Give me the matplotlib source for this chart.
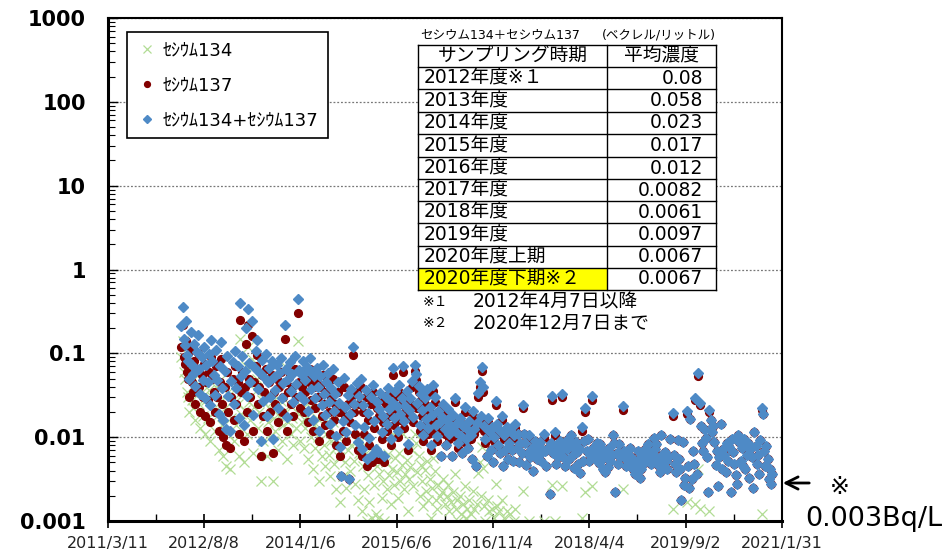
import numpy as np
import pandas as pd
import matplotlib
matplotlib.use("Agg")
import matplotlib.pyplot as plt
import matplotlib.dates as mdates
from matplotlib.ticker import LogLocator, NullFormatter
from matplotlib.patches import Rectangle, FancyArrowPatch
from matplotlib.lines import Line2D

plt.rcParams['font.family'] = ['DejaVu Sans', 'Noto Sans CJK JP']

nd = np.nan  # not detected
start = np.datetime64('2011-03-11')

# sampling day, counted from 2011/3/11
days = [
    393, 400, 406, 412, 418, 425, 431, 437, 444, 450,
    456, 463, 469, 476, 482, 489, 495, 502, 508, 515,
    521, 528, 534, 541, 547, 554, 560, 567, 573, 580,
    586, 593, 600, 606, 613, 619, 626, 632, 639, 645,
    652, 660, 668, 675, 682, 689, 696, 702, 707, 714,
    720, 727, 733, 740, 746, 750, 757, 764, 772, 778,
    785, 791, 798, 805, 812, 818, 825, 832, 838, 845,
    851, 858, 865, 871, 878, 885, 891, 898, 905, 911,
    918, 925, 931, 938, 948, 954, 961, 967, 974, 981,
    987, 994, 1001, 1008, 1018, 1024, 1031, 1038, 1045, 1051,
    1058, 1065, 1071, 1078, 1085, 1091, 1098, 1105, 1111, 1118,
    1125, 1131, 1138, 1145, 1151, 1158, 1165, 1171, 1178, 1185,
    1191, 1198, 1205, 1211, 1218, 1225, 1231, 1238, 1245, 1251,
    1258, 1265, 1271, 1278, 1285, 1291, 1298, 1305, 1313, 1320,
    1327, 1333, 1340, 1347, 1355, 1362, 1368, 1375, 1381, 1388,
    1395, 1401, 1408, 1415, 1421, 1428, 1435, 1441, 1448, 1455,
    1461, 1468, 1475, 1481, 1488, 1495, 1501, 1508, 1515, 1521,
    1528, 1535, 1541, 1548, 1555, 1561, 1568, 1575, 1581, 1588,
    1595, 1601, 1608, 1615, 1621, 1628, 1635, 1645, 1652, 1658,
    1665, 1671, 1678, 1685, 1691, 1698, 1705, 1711, 1718, 1725,
    1731, 1738, 1745, 1751, 1758, 1765, 1771, 1778, 1785, 1791,
    1798, 1805, 1811, 1818, 1825, 1831, 1838, 1845, 1851, 1858,
    1865, 1871, 1878, 1885, 1892, 1898, 1905, 1912, 1918, 1925,
    1932, 1938, 1945, 1952, 1958, 1965, 1972, 1978, 1985, 1992,
    1998, 2004, 2011, 2018, 2024, 2031, 2038, 2044, 2051, 2058,
    2064, 2071, 2078, 2084, 2091, 2098, 2104, 2111, 2118, 2124,
    2131, 2138, 2144, 2151, 2158, 2164, 2171, 2178, 2184, 2191,
    2198, 2204, 2211, 2218, 2224, 2231, 2238, 2244, 2251, 2258,
    2264, 2271, 2278, 2284, 2291, 2298, 2304, 2311, 2318, 2324,
    2331, 2338, 2344, 2351, 2358, 2369, 2375, 2382, 2388, 2395,
    2401, 2408, 2415, 2421, 2428, 2433, 2440, 2447, 2453, 2460,
    2467, 2473, 2480, 2487, 2493, 2500, 2507, 2513, 2520, 2527,
    2533, 2540, 2547, 2553, 2560, 2567, 2573, 2580, 2587, 2594,
    2600, 2607, 2614, 2620, 2627, 2634, 2640, 2647, 2654, 2660,
    2667, 2674, 2680, 2687, 2694, 2700, 2707, 2714, 2720, 2727,
    2734, 2740, 2747, 2760, 2767, 2774, 2780, 2787, 2794, 2800,
    2807, 2814, 2820, 2827, 2834, 2840, 2847, 2854, 2860, 2867,
    2874, 2880, 2887, 2894, 2900, 2910, 2917, 2925, 2931, 2938,
    2944, 2951, 2958, 2964, 2971, 2978, 2984, 2991, 2998, 3004,
    3012, 3028, 3035, 3041, 3048, 3055, 3061, 3068, 3075, 3082,
    3088, 3095, 3102, 3108, 3115, 3122, 3129, 3135, 3142, 3150,
    3158, 3165, 3172, 3178, 3185, 3192, 3198, 3205, 3212, 3218,
    3225, 3232, 3238, 3245, 3252, 3258, 3265, 3272, 3278, 3285,
    3292, 3298, 3305, 3312, 3318, 3325, 3332, 3338, 3345, 3352,
    3358, 3365, 3372, 3378, 3385, 3392, 3398, 3405, 3412, 3418,
    3425, 3432, 3438, 3445, 3452, 3458, 3465, 3472, 3478, 3485,
    3492, 3498, 3505, 3510, 3517, 3523, 3530, 3537, 3543, 3550,
    3555, 3559,
]

cs137 = [
    .12, .22, .09, .075, .14, .06, .05, .03, .11, .045,
    .035, .08, .025, .065, .10, .04, .02, .055, .03, .075,
    .018, .045, .028, .06, .015, .09, .05, .035, .02, .07,
    .03, .012, .045, .085, .025, .01, .04, .008, .06, .02,
    .0075, .03, .05, .016, .07, .025, .045, .011, .25, .035,
    .06, .009, .04, .13, .02, .22, .05, .03, .16, .012,
    .045, .07, .095, .025, .04, .006, .055, .018, .035, .065,
    .012, .03, .045, .02, .055, .0065, .035, .025, .05, .015,
    .04, .06, .02, .03, .15, .045, .012, .035, .055, .025,
    .04, .018, .065, .03, .30, .045, .022, .04, .06, .02,
    .035, .05, .015, .045, .065, .028, .012, .04, .022, .05,
    .03, .009, .04, .018, .055, .025, .014, .035, .045, .02,
    .011, .03, .05, .016, .025, .008, .035, .02, .006, .0034,
    .012, .04, .018, .009, .025, .0032, .015, .03, .095, .02,
    .011, .035, .007, .025, .04, .006, .02, .011, .03, .0045,
    .016, .008, .025, .005, .035, .013, .006, .022, .0055, .018,
    .028, .0095, .015, .005, .025, .012, .032, .018, .008, .022,
    .055, .014, .03, .02, .01, .035, .016, .025, .06, .013,
    .02, .03, .007, .018, .025, .04, .015, .062, .048, .022,
    .035, .012, .028, .018, .009, .025, .014, .032, .011, .02,
    .007, .016, .036, .026, .012, .009, .018, .013, .006, .015,
    .022, .011, .008, .014, .019, .0095, .012, .006, .016, .026,
    .01, .013, .0075, .015, .009, .0065, .012, .02, .0085, .011,
    .0075, .014, .0095, .0055, .018, .011, .0045, .013, .03, .04,
    .016, .062, .035, .012, .0085, .006, .015, .0105, .007, .012,
    .005, .009, .024, .013, .008, .011, .0065, .016, .0045, .0095,
    .007, .012, .0055, .0085, .011, .007, .0052, .0095, .013, .0075,
    .011, .005, .0085, .0065, .022, .011, .0085, .0047, .0065, .0095,
    .0058, .0075, .004, .0068, .009, .0055, .0078, .0062, .0088, .0052,
    .007, .0098, .0068, .0045, .0075, .0021, .0085, .028, .0065, .0105,
    .0048, .0078, .0058, .009, .0068, .03, .0058, .0082, .0045, .0072,
    .0095, .0055, .0105, .0078, .0062, .0043, .0088, .0066, .0048, .0075,
    .0037, .012, .0052, .009, .02, .0068, .0095, .0052, .0062, .028,
    .0075, .0058, .0072, .0085, .0062, .0049, .0082, .0055, .0042, .0068,
    .0038, .0058, .0044, .0075, .0052, .0062, .0105, .0085, .0022, .0065,
    .0048, .0082, .0058, .021, .0068, .0056, .0045, .0062, .0048, .0075,
    .0058, .0042, .0052, .0036, .0046, .0068, .0055, .0033, .0042, .0061,
    .0049, .0072, .0056, .0083, .0065, .0048, .0065, .0098, .0072, .0082,
    .0055, .0046, .0038, .0105, .0062, .0048, .0066, .0052, .0042, .0058,
    .0095, .018, .0062, .0048, .0038, .0092, .0055, .0042, .0018, .0088,
    .0027, .0033, .019, .0045, .0025, .0165, .0032, .0068, .0048, .028,
    .0036, .054, .024, .0135, .0085, .0068, .0125, .0098, .0058, .0022,
    .02, .016, .0115, .0135, .0088, .0046, .0068, .0026, .0058, .0145,
    .0042, .0072, .0062, .0038, .0085, .0052, .0076, .0022, .0095, .0066,
    .0048, .0035, .0028, .0105, .0088, .0052, .0074, .0045, .0095, .0042,
    .0062, .0085, .0033, .0072, .0058, .0025, .0115, .0078, .0048, .0062,
    .0036, .0092, .021, .019, .0068, .0045, .0078, .0055, .0032, .0042,
    .0028, .0036,
]

cs134 = [
    .09, .14, .06, .05, .10, .035, .03, .02, .07, .028,
    .022, .05, .016, .04, .065, .025, .013, .035, .018, .045,
    .011, .028, .017, .037, .009, .055, .03, .02, .012, .04,
    .018, .007, .026, .05, .014, .006, .022, .0045, .034, .011,
    .0042, .017, .028, .009, .038, .014, .025, .006, .15, .019,
    .032, .005, .021, .07, .011, .12, .026, .016, .085, .0065,
    .023, .036, .05, .013, .02, .003, .028, .009, .017, .032,
    .006, .015, .022, .01, .026, .003, .017, .012, .023, .007,
    .018, .027, .009, .014, .07, .02, .0055, .015, .024, .011,
    .017, .008, .028, .013, .14, .019, .009, .015, .022, .0075,
    .013, .018, .0055, .016, .023, .01, .0042, .014, .0075, .017,
    .01, .003, .013, .006, .018, .008, .0045, .011, .014, .0062,
    .0034, .009, .015, .0048, .0075, .0024, .01, .0058, .0017, nd,
    .0034, .011, .005, .0025, .007, nd, .004, .008, .025, .0052,
    .0028, .009, .0018, .0064, .009, .0013, .0045, .0024, .0065, .001,
    .0035, .0017, .0052, .0011, .0072, .0027, .0012, .0045, .0011, .0036,
    .0056, .0019, .003, .001, .005, .0024, .0063, .0035, .0016, .0042,
    .011, .0027, .0057, .0038, .0019, .0065, .003, .0046, .011, .0024,
    .0036, .0054, .0013, .0032, .0044, .007, .0026, .011, .0085, .0038,
    .006, .002, .0047, .003, .0015, .0041, .0023, .0052, .0018, .0032,
    .0011, .0025, .0056, .004, .0018, .0014, .0027, .002, nd, .0022,
    .0032, .0016, nd, .002, .0027, .0013, .0017, nd, .0022, .0036,
    .0014, .0018, .001, .002, .0012, nd, .0016, .0026, .0011, .0014,
    nd, .0018, .0012, nd, .0023, .0014, nd, .0016, .0037, .005,
    .002, .0076, .0043, .0015, .001, nd, .0018, .0013, nd, .0014,
    nd, .0011, .0028, .0015, nd, .0013, nd, .0018, nd, .0011,
    nd, .0013, nd, nd, .0012, nd, nd, .001, .0014, nd,
    nd, nd, nd, nd, .0023, nd, nd, nd, nd, .001,
    nd, nd, nd, nd, nd, nd, nd, nd, nd, nd,
    nd, .001, nd, nd, nd, nd, nd, .0027, nd, .001,
    nd, nd, nd, nd, nd, .0026, nd, nd, nd, nd,
    nd, nd, nd, nd, nd, nd, nd, nd, nd, nd,
    nd, .0011, nd, nd, .0022, nd, nd, nd, nd, .0026,
    nd, nd, nd, nd, nd, nd, nd, nd, nd, nd,
    nd, nd, nd, nd, nd, nd, nd, nd, nd, nd,
    nd, nd, nd, .0024, nd, nd, nd, nd, nd, nd,
    nd, nd, nd, nd, nd, nd, nd, nd, nd, nd,
    nd, nd, nd, nd, nd, nd, nd, nd, nd, nd,
    nd, nd, nd, nd, nd, nd, nd, nd, nd, nd,
    nd, .0014, nd, nd, nd, nd, nd, nd, nd, nd,
    nd, nd, .0017, nd, nd, nd, nd, nd, nd, .0016,
    nd, .0042, .0014, nd, nd, nd, nd, nd, nd, nd,
    .0013, nd, nd, nd, nd, nd, nd, nd, nd, nd,
    nd, nd, nd, nd, nd, nd, nd, nd, nd, nd,
    nd, nd, nd, nd, nd, nd, nd, nd, nd, nd,
    nd, nd, nd, nd, nd, nd, nd, nd, nd, nd,
    nd, nd, .0012, nd, nd, nd, nd, nd, nd, nd,
    nd, nd,
]

xtick_labels = ['2011/3/11', '2012/8/8', '2014/1/6', '2015/6/6',
                '2016/11/4', '2018/4/4', '2019/9/2', '2021/1/31']
ytick_vals = [0.001, 0.01, 0.1, 1, 10, 100, 1000]
ytick_labels = ['0.001', '0.01', '0.1', '1', '10', '100', '1000']

series_names = ['ｾｼｳﾑ134', 'ｾｼｳﾑ137', 'ｾｼｳﾑ134+ｾｼｳﾑ137']

table_title = 'セシウム134＋セシウム137'
table_unit = '(ベクレル/リットル)'
table_header = ['サンプリング時期', '平均濃度']
periods = ['2012年度※１', '2013年度', '2014年度', '2015年度', '2016年度',
           '2017年度', '2018年度', '2019年度', '2020年度上期', '2020年度下期※２']
means = ['0.08', '0.058', '0.023', '0.017', '0.012',
         '0.0082', '0.0061', '0.0097', '0.0067', '0.0067']
notes = [('※１', '2012年4月7日以降'), ('※２', '2020年12月7日まで')]

assert len(days) == len(cs137) == len(cs134)

dates = start + np.array(days).astype('timedelta64[D]')
c137 = np.array(cs137, dtype=float)
c134 = np.array(cs134, dtype=float)
total = np.where(np.isnan(c134), c137, c137 + c134)

W, H = 945, 553
fig = plt.figure(figsize=(W / 100, H / 100), dpi=100)
fig.patch.set_facecolor('white')


def fx(x):
    return x / W


def fy(y):
    return 1 - y / H


ax = fig.add_axes([fx(108), fy(521), (782 - 108) / W, (521 - 18) / H])

# series
ax.plot(dates, c134, 'x', color='#b2dc94', ms=7, mew=0.9, label=series_names[0], zorder=2)
ax.plot(dates, c137, 'o', color='#820000', ms=5.6, mec='#820000', label=series_names[1], zorder=3)
ax.plot(dates, total, 'D', color='#4e8ac6', ms=5.2, mec='#4e8ac6', label=series_names[2], zorder=4)

ax.set_yscale('log')
ax.set_ylim(0.001, 1000)
ax.set_yticks(ytick_vals)
ax.set_yticklabels(ytick_labels, fontsize=15, fontweight='bold')
ax.yaxis.set_minor_locator(LogLocator(base=10, subs=np.arange(2, 10)))
ax.yaxis.set_minor_formatter(NullFormatter())
ax.tick_params(axis='y', which='major', direction='in', length=7, width=1, pad=16)
ax.tick_params(axis='y', which='minor', direction='in', length=5, width=0.8)
ax.yaxis.grid(True, which='major', linestyle=(0, (1.5, 1.5)), color='#777777', lw=0.9)

tick_dates = pd.to_datetime(xtick_labels, format='%Y/%m/%d')
tick_nums = mdates.date2num(tick_dates)
ax.set_xlim(tick_nums[0], tick_nums[-1])
ax.set_xticks(tick_nums)
ax.set_xticklabels(xtick_labels, fontsize=11.5, color='#222222')
ax.set_xticks((tick_nums[:-1] + tick_nums[1:]) / 2, minor=True)
ax.tick_params(axis='x', which='major', direction='inout', length=10, width=1.2, pad=6)
ax.tick_params(axis='x', which='minor', direction='in', length=5, width=1)

for side in ['left', 'bottom']:
    ax.spines[side].set_linewidth(2.2)
for side in ['top', 'right']:
    ax.spines[side].set_linewidth(1.5)

leg = ax.legend(loc='upper left', bbox_to_anchor=(0.028, 0.972), frameon=True,
                fancybox=False, edgecolor='black', framealpha=1, fontsize=13,
                borderpad=0.5, handlelength=1.2, handletextpad=0.3,
                labelspacing=0.95, borderaxespad=0, markerscale=0.75)
leg.get_frame().set_linewidth(1.2)

# average table
tab_x = [418, 607, 716]
tab_y = [45, 67, 89, 112, 134, 157, 179, 201, 223, 246, 268, 290]
fig.patches.append(Rectangle((fx(tab_x[0]), fy(tab_y[-1])), (tab_x[-1] - tab_x[0]) / W,
                             (tab_y[-1] - tab_y[0]) / H, transform=fig.transFigure,
                             facecolor='white', edgecolor='none', zorder=5))
fig.patches.append(Rectangle((fx(tab_x[0]), fy(tab_y[-1])), (tab_x[1] - tab_x[0]) / W,
                             (tab_y[-1] - tab_y[-2]) / H, transform=fig.transFigure,
                             facecolor='#ffff00', edgecolor='none', zorder=6))
for y in tab_y:
    fig.add_artist(Line2D([fx(tab_x[0]), fx(tab_x[-1])], [fy(y), fy(y)],
                          color='black', lw=1.0, zorder=7))
for x in tab_x:
    fig.add_artist(Line2D([fx(x), fx(x)], [fy(tab_y[0]), fy(tab_y[-1])],
                          color='black', lw=1.0, zorder=7))

fig.text(fx(420), fy(35), table_title, fontsize=9, ha='left', va='center', zorder=8)
fig.text(fx(716), fy(35), table_unit, fontsize=9, ha='right', va='center', zorder=8)

hy = (tab_y[0] + tab_y[1]) / 2
fig.text(fx((tab_x[0] + tab_x[1]) / 2), fy(hy), table_header[0], fontsize=13.5,
         ha='center', va='center', zorder=8)
fig.text(fx((tab_x[1] + tab_x[2]) / 2), fy(hy), table_header[1], fontsize=13.5,
         ha='center', va='center', zorder=8)
for i, (p, m) in enumerate(zip(periods, means)):
    ry = (tab_y[i + 1] + tab_y[i + 2]) / 2
    fig.text(fx(424), fy(ry), p, fontsize=13.5, ha='left', va='center', zorder=8)
    fig.text(fx(703), fy(ry), m, fontsize=13.5, ha='right', va='center', zorder=8)

for k, (mark, txt) in enumerate(notes):
    ny = 302 + 21 * k
    fig.text(fx(423), fy(ny), mark, fontsize=10, ha='left', va='center')
    fig.text(fx(473), fy(ny), txt, fontsize=13.5, ha='left', va='center')

# detection limit marker on the right
fig.add_artist(FancyArrowPatch(
    (fx(812), fy(483)), (fx(780), fy(483)), transform=fig.transFigure,
    arrowstyle='->', mutation_scale=22, lw=2, color='black'))
fig.text(fx(840), fy(487), '※', fontsize=17, ha='center', va='center')
fig.text(fx(805), fy(519), '0.003Bq/L', fontsize=19.5, ha='left', va='center')

fig.savefig('out.png', dpi=100)
